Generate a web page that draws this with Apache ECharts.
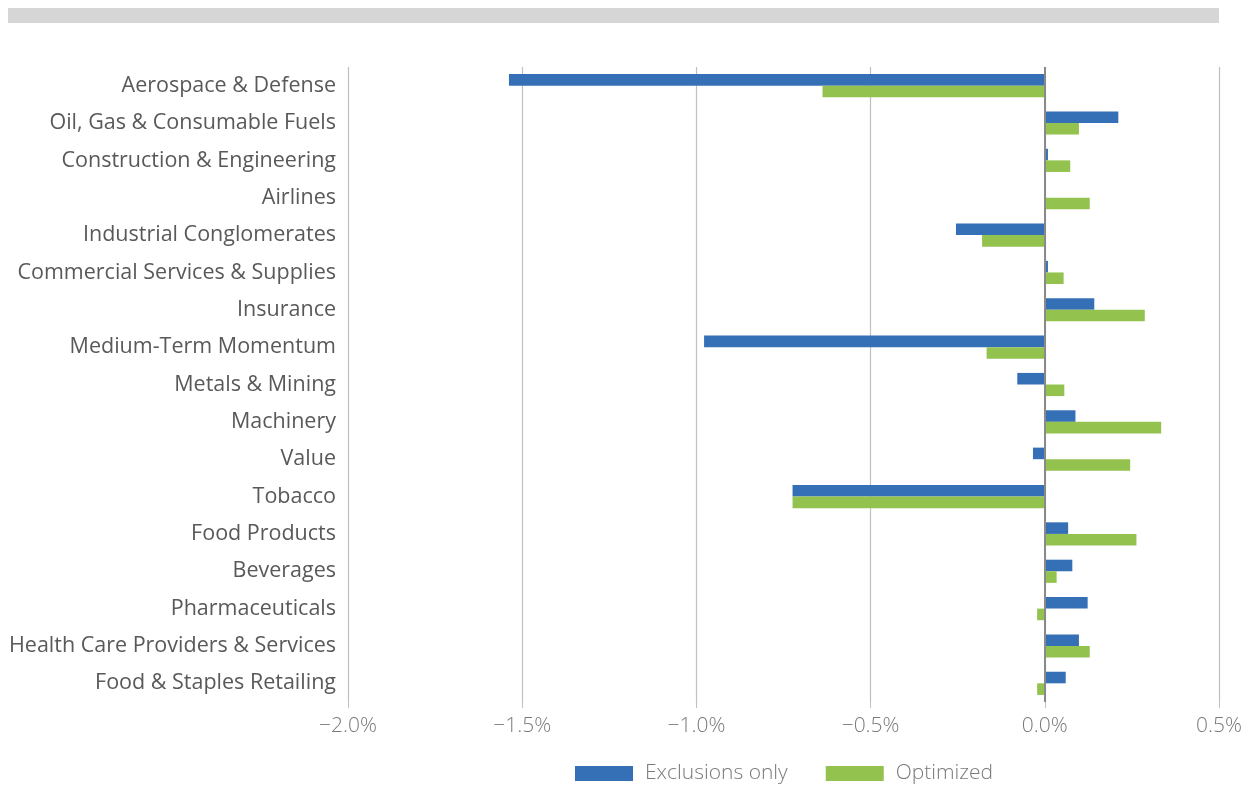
<!DOCTYPE html>
<html>
<head>
<meta charset="utf-8">
<script src="https://cdn.jsdelivr.net/npm/echarts@6/dist/echarts.min.js"></script>
<style>
  html, body { margin: 0; padding: 0; background: #ffffff; }
  #chart { width: 1247px; height: 786px; }
</style>
</head>
<body>
<div id="chart"></div>
<script>
// Sector / factor contributions, in percent
const categories = [
  'Aerospace & Defense',
  'Oil, Gas & Consumable Fuels',
  'Construction & Engineering',
  'Airlines',
  'Industrial Conglomerates',
  'Commercial Services & Supplies',
  'Insurance',
  'Medium-Term Momentum',
  'Metals & Mining',
  'Machinery',
  'Value',
  'Tobacco',
  'Food Products',
  'Beverages',
  'Pharmaceuticals',
  'Health Care Providers & Services',
  'Food & Staples Retailing'
];
const exclusionsOnly = [-1.538, 0.211, 0.009, 0.001, -0.255, 0.009, 0.142, -0.978, -0.079, 0.088, -0.034, -0.724, 0.067, 0.079, 0.123, 0.098, 0.060];
const optimized      = [-0.638, 0.098, 0.073, 0.129, -0.180, 0.054, 0.287, -0.167, 0.056, 0.334, 0.245, -0.724, 0.263, 0.034, -0.022, 0.129, -0.022];
const seriesNames = ['Exclusions only', 'Optimized'];
const xTicks = { min: -2.0, max: 0.5, step: 0.5 };

const BLUE = '#3570b6';
const GREEN = '#93c24f';
const FONT = '"Open Sans", "Noto Sans", sans-serif';

const chart = echarts.init(document.getElementById('chart'), null, { renderer: 'canvas' });

chart.setOption({
  animation: false,
  backgroundColor: '#ffffff',
  graphic: [{
    type: 'rect',
    left: 8, top: 8,
    shape: { width: 1211, height: 15 },
    style: { fill: '#d6d6d6' },
    silent: true
  }],
  grid: { left: 348, right: 28, top: 67, bottom: 84, containLabel: false },
  legend: {
    data: seriesNames,
    left: 575,
    top: 763,
    padding: 0,
    itemWidth: 58,
    itemHeight: 15,
    itemGap: 38,
    icon: 'rect',
    textStyle: { fontFamily: FONT, fontSize: 21, fontWeight: 300, color: '#7a7a7a', padding: [0, 0, 0, 7] }
  },
  xAxis: {
    type: 'value',
    min: xTicks.min,
    max: xTicks.max,
    interval: xTicks.step,
    axisLine: { show: false },
    axisTick: { show: true, length: 6, lineStyle: { color: '#c0c0c0', width: 1 } },
    splitLine: { show: true, lineStyle: { color: '#c0c0c0', width: 1.2 } },
    axisLabel: {
      margin: 14,
      fontFamily: FONT,
      fontSize: 21,
      fontWeight: 300,
      color: '#7a7a7a',
      formatter: v => (v < 0 ? '\u2212' : '') + Math.abs(v).toFixed(1) + '%'
    }
  },
  yAxis: {
    type: 'category',
    data: categories,
    inverse: true,
    axisLine: { show: false },
    axisTick: { show: false },
    axisLabel: { margin: 12, fontFamily: FONT, fontSize: 21.5, color: '#595959' }
  },
  series: [
    {
      name: seriesNames[0],
      type: 'bar',
      data: exclusionsOnly,
      itemStyle: { color: BLUE },
      barGap: '0%',
      barCategoryGap: '38%',
      markLine: {
        silent: true,
        symbol: 'none',
        label: { show: false },
        lineStyle: { color: '#8a8a8a', width: 2, type: 'solid' },
        data: [{ xAxis: 0 }]
      }
    },
    {
      name: seriesNames[1],
      type: 'bar',
      data: optimized,
      itemStyle: { color: GREEN },
      barGap: '0%',
      barCategoryGap: '38%'
    }
  ]
});
</script>
</body>
</html>
